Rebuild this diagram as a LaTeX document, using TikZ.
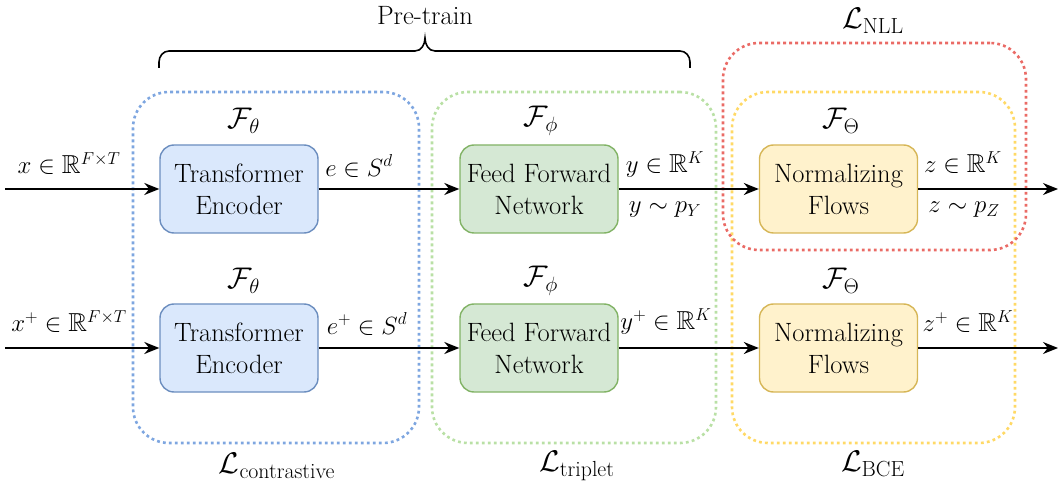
\documentclass[tikz,border=0pt]{standalone}
\usepackage{amsmath,amssymb}
\usetikzlibrary{arrows.meta}
\definecolor{grpblue}{HTML}{7EA6E0}
\definecolor{grpgreen}{HTML}{B9E0A5}
\definecolor{grpred}{HTML}{EA6B66}
\definecolor{grpyellow}{HTML}{FFD966}
\definecolor{fillblue}{HTML}{DAE8FC}
\definecolor{lineblue}{HTML}{6C8EBF}
\definecolor{fillgreen}{HTML}{D5E8D4}
\definecolor{linegreen}{HTML}{82B366}
\definecolor{fillyellow}{HTML}{FFF2CC}
\definecolor{lineyellow}{HTML}{D6B656}
\begin{document}
\begin{tikzpicture}[x=1pt,y=-1pt,
  every node/.style={font=\rmfamily\fontsize{26.5}{32}\selectfont, inner sep=0pt},
  mathlbl/.style={font=\rmfamily\fontsize{26}{31}\selectfont},
  grp/.style={draw, line width=2.6pt, dash pattern=on 2.8pt off 3.2pt, rounded corners=36pt, fill=none},
  proc/.style={draw, line width=1.4pt, rounded corners=14pt, minimum width=158pt, minimum height=88pt, align=center},
  te/.style={proc, fill=fillblue, draw=lineblue},
  ffn/.style={proc, fill=fillgreen, draw=linegreen},
  nf/.style={proc, fill=fillyellow, draw=lineyellow},
  flow/.style={line width=1.6pt, -{Stealth[length=15pt,width=12pt]}}
]
\useasboundingbox (0,0) rectangle (1058,486);
% groups
\node[grp, draw=grpblue, minimum width=286pt, minimum height=351pt] (gblue) at (276,267.5) {};
\node[grp, draw=grpgreen, minimum width=284pt, minimum height=351pt] (ggreen) at (574,267.5) {};
\node[grp, draw=grpyellow, minimum width=283pt, minimum height=351pt] (gyellow) at (873.5,267.5) {};
\node[grp, draw=grpred, minimum width=303pt, minimum height=207pt] (gred) at (874.5,146.5) {};
% process boxes
\node[te] (te1) at (239,189) {Transformer\\Encoder};
\node[te] (te2) at (239,348) {Transformer\\Encoder};
\node[ffn] (ffn1) at (539,189) {Feed Forward\\Network};
\node[ffn] (ffn2) at (539,348) {Feed Forward\\Network};
\node[nf] (nf1) at (838.5,189) {Normalizing\\Flows};
\node[nf] (nf2) at (838.5,348) {Normalizing\\Flows};
% function labels
\node[mathlbl] (fth1) at (244,121) {\scalebox{1.2}{$\mathcal{F}_\theta$}};
\node[mathlbl] (fth2) at (244,281) {\scalebox{1.2}{$\mathcal{F}_\theta$}};
\node[mathlbl] (fph1) at (541,121) {\scalebox{1.2}{$\mathcal{F}_\phi$}};
\node[mathlbl] (fph2) at (541,281) {\scalebox{1.2}{$\mathcal{F}_\phi$}};
\node[mathlbl] (fTh1) at (841,121) {\scalebox{1.2}{$\mathcal{F}_\Theta$}};
\node[mathlbl] (fTh2) at (841,281) {\scalebox{1.2}{$\mathcal{F}_\Theta$}};
% loss labels
\node[mathlbl] (lcon) at (277,466) {\scalebox{1.2}{$\mathcal{L}_{\text{contrastive}}$}};
\node[mathlbl] (ltri) at (577,466) {\scalebox{1.2}{$\mathcal{L}_{\text{triplet}}$}};
\node[mathlbl] (lbce) at (873,464) {\scalebox{1.2}{$\mathcal{L}_{\text{BCE}}$}};
\node[mathlbl] (lnll) at (873,21) {\scalebox{1.2}{$\mathcal{L}_{\text{NLL}}$}};
% pre-train brace
\node (pre) at (425,16) {Pre-train};
\draw[line width=1.6pt] (159,68) -- (159,62) to[out=90,in=180] (169,51) -- (415,51)
  to[out=0,in=-90] (425,38) to[out=-90,in=180] (435,51) -- (680,51) to[out=0,in=90] (690,62) -- (690,68);
% connectors
\coordinate (in1) at (5,189);
\coordinate (in2) at (5,348);
\coordinate (out1) at (1058,189);
\coordinate (out2) at (1058,348);
\draw[flow] (in1) -- (te1.west);
\draw[flow] (te1.east) -- (ffn1.west);
\draw[flow] (ffn1.east) -- (nf1.west);
\draw[flow] (nf1.east) -- (out1);
\draw[flow] (in2) -- (te2.west);
\draw[flow] (te2.east) -- (ffn2.west);
\draw[flow] (ffn2.east) -- (nf2.west);
\draw[flow] (nf2.east) -- (out2);
% edge labels
\node[mathlbl] (lx) at (69,164) {$x\in\mathbb{R}^{F\times T}$};
\node[mathlbl] (le) at (359,166) {$e\in S^d$};
\node[mathlbl] (ly1) at (665,165) {$y\in\mathbb{R}^K$};
\node[mathlbl] (ly2) at (665,210) {$y\sim p_Y$};
\node[mathlbl] (lz1) at (963,163) {$z\in\mathbb{R}^K$};
\node[mathlbl] (lz2) at (964,210) {$z\sim p_Z$};
\node[mathlbl] (lxp) at (69,322) {$x^+\in\mathbb{R}^{F\times T}$};
\node[mathlbl] (lep) at (367,324) {$e^+\in S^d$};
\node[mathlbl] (lyp) at (666,322) {$y^+\in\mathbb{R}^K$};
\node[mathlbl] (lzp) at (968,322) {$z^+\in\mathbb{R}^K$};
\end{tikzpicture}
\end{document}
